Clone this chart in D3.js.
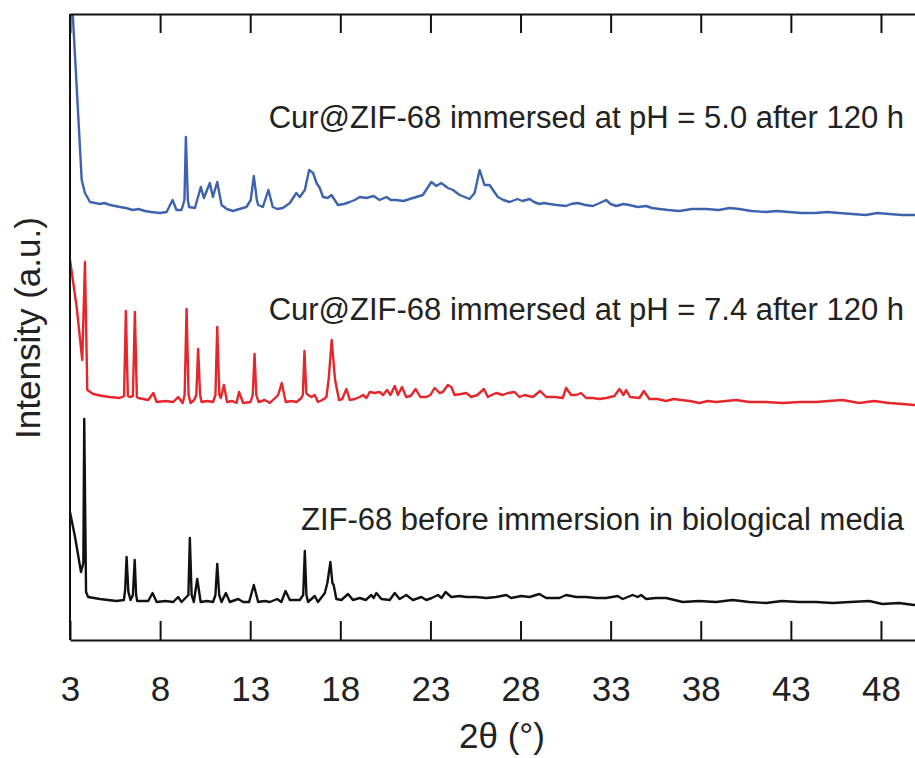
<!DOCTYPE html>
<meta charset="utf-8">

<!-- Load d3.js -->
<script src="https://d3js.org/d3.v7.min.js"></script>

<style>
  body { margin: 0; background: #fff; }
  text { font-family: "Liberation Sans", Arial, sans-serif; fill: #222; }
</style>

<div id="my_dataviz"></div>

<script>

  // x tick values (2theta, degrees)
  var xTicks = [3, 8, 13, 18, 23, 28, 33, 38, 43, 48];

  // series labels
  var labels = [
    "Cur@ZIF-68 immersed at pH = 5.0 after 120 h",
    "Cur@ZIF-68 immersed at pH = 7.4 after 120 h",
    "ZIF-68 before immersion in biological media"
  ];

  // pH 5.0 pattern (2theta, intensity a.u. incl. stacking offset)
  var ph50 = [
    [3.02,670],[3.65,460],[3.83,447],[4.11,438],[4.4,437],[4.66,436],[4.9,437],[5.22,435],[5.5,434],[5.77,433],
    [6.1,432],[6.49,430],[6.8,431],[7.16,429],[7.5,428],[7.99,427],[8.36,428],[8.69,440],[8.91,430],[9.19,430],
    [9.35,440],[9.43,503],[9.54,440],[9.61,433],[9.93,432],[10.26,453],[10.43,442],[10.76,457],[10.93,443],[11.17,458],
    [11.41,435],[11.7,431],[12.04,429],[12.4,431],[12.79,433],[13.03,440],[13.2,464],[13.37,440],[13.44,435],[13.7,433],
    [14.01,450],[14.25,433],[14.5,431],[14.81,432],[15.2,437],[15.56,447],[15.75,443],[16.03,450],[16.27,470],[16.49,467],
    [16.68,457],[16.86,452],[17.04,443],[17.3,442],[17.51,445],[17.87,435],[18.2,436],[18.52,438],[18.8,440],[19.08,443],
    [19.45,442],[19.85,444],[20.18,440],[20.56,443],[20.8,440],[21.11,440],[21.5,439],[22.03,442],[22.58,445],[23.05,458],
    [23.33,454],[23.6,457],[23.97,452],[24.25,450],[24.62,445],[24.9,443],[25.17,441],[25.45,447],[25.73,470],[26.0,455],
    [26.28,455],[26.74,443],[27.05,440],[27.39,438],[27.83,441],[28.1,439],[28.5,441],[28.75,438],[29.05,436],[29.3,437],
    [29.61,436],[30.0,435],[30.53,434],[30.8,436],[31.18,437],[31.6,435],[32.01,434],[32.4,437],[32.75,440],[33.0,436],
    [33.31,434],[33.7,436],[34.04,435],[34.5,433],[34.97,434],[35.3,432],[35.71,431],[36.2,430],[36.82,429],[37.5,431],
    [38.29,431],[39.0,430],[39.6,432],[40.14,431],[40.8,429],[41.62,428],[42.2,429],[42.91,428],[43.6,427],[44.39,427],
    [45.0,428],[45.68,427],[46.4,426],[47.16,425],[47.8,427],[48.45,426],[49.2,425],[49.84,425],[50,425]
  ];

  // pH 7.4 pattern
  var ph74 = [
    [3.0,380],[3.37,333],[3.68,280],[3.83,378],[3.96,250],[4.29,246],[4.8,244],[5.22,243],[5.77,242],[6.0,244],
    [6.1,329],[6.21,244],[6.33,243],[6.49,244],[6.6,328],[6.71,243],[6.79,242],[7.34,240],[7.62,247],[7.81,238],
    [8.3,239],[8.73,238],[9.0,243],[9.25,237],[9.36,245],[9.47,331],[9.58,245],[9.69,237],[9.89,240],[10.01,245],
    [10.11,291],[10.22,245],[10.3,238],[10.6,239],[10.94,238],[11.07,245],[11.17,313],[11.29,245],[11.37,242],[11.54,255],
    [11.72,238],[12.0,239],[12.24,237],[12.38,248],[12.61,237],[13.02,238],[13.14,245],[13.24,286],[13.34,245],[13.46,238],
    [13.81,240],[14.09,237],[14.55,245],[14.75,257],[14.97,238],[15.3,239],[15.57,238],[15.84,242],[15.92,245],[16.01,289],
    [16.11,247],[16.21,245],[16.4,243],[16.58,245],[16.76,238],[17.0,240],[17.23,243],[17.36,262],[17.52,300],[17.71,260],
    [17.93,240],[18.1,241],[18.34,251],[18.52,240],[18.8,241],[19.08,243],[19.26,245],[19.45,242],[19.63,248],[19.91,247],
    [20.18,248],[20.37,245],[20.59,250],[20.78,245],[21.02,254],[21.2,245],[21.42,253],[21.66,243],[21.9,244],[22.18,251],
    [22.44,243],[22.77,243],[23.0,245],[23.23,252],[23.51,247],[23.69,248],[23.97,255],[24.16,253],[24.34,245],[24.7,246],
    [24.99,247],[25.27,243],[25.6,245],[25.97,251],[26.19,243],[26.4,245],[26.65,247],[27.02,245],[27.3,247],[27.67,248],
    [27.94,243],[28.22,245],[28.45,244],[28.68,243],[29.09,249],[29.42,243],[29.9,243],[30.34,242],[30.53,252],[30.81,245],
    [31.09,245],[31.36,247],[31.64,242],[32.0,242],[32.38,241],[32.75,242],[33.21,244],[33.49,251],[33.71,245],[33.86,250],
    [34.08,243],[34.6,242],[34.84,249],[35.15,241],[35.6,241],[36.08,239],[36.5,241],[36.91,240],[37.4,239],[37.92,237],
    [38.4,239],[38.85,238],[39.4,239],[39.96,240],[40.7,238],[41.6,238],[42.54,237],[43.5,238],[44.39,238],[45.1,239],
    [45.87,240],[46.79,237],[47.62,239],[48.45,237],[49.2,236],[49.84,235],[50,235]
  ];

  // as-synthesised ZIF-68 pattern
  var zif68 = [
    [3.0,128],[3.28,103],[3.61,68],[3.74,77],[3.79,221],[3.89,48],[4.01,43],[4.66,41],[5.1,40],[5.59,39],
    [5.99,40],[6.06,50],[6.14,83],[6.24,48],[6.36,40],[6.49,45],[6.59,80],[6.67,45],[6.73,39],[7.34,39],
    [7.58,47],[7.81,38],[8.3,39],[8.73,38],[9.0,43],[9.19,38],[9.57,45],[9.65,102],[9.75,45],[9.87,38],
    [10.06,61],[10.25,38],[10.6,39],[10.94,38],[11.07,45],[11.17,76],[11.28,45],[11.41,38],[11.65,47],[11.87,38],
    [12.33,41],[12.61,38],[12.94,38],[13.2,55],[13.44,38],[13.8,39],[14.09,38],[14.5,41],[14.73,38],[14.96,49],
    [15.2,40],[15.75,40],[15.94,45],[16.03,89],[16.12,45],[16.21,38],[16.58,44],[16.76,38],[17.14,47],[17.28,57],
    [17.45,78],[17.56,57],[17.63,55],[17.78,41],[18.06,40],[18.43,46],[18.7,40],[19.08,42],[19.41,40],[19.72,45],
    [19.85,42],[20.0,47],[20.28,41],[20.74,40],[21.02,47],[21.29,41],[21.66,45],[22.03,40],[22.5,43],[22.77,40],
    [23.07,42],[23.42,45],[23.62,42],[23.84,48],[24.16,43],[24.62,44],[24.99,43],[25.54,43],[26.1,42],[26.65,43],
    [27.21,45],[27.48,42],[28.04,44],[28.5,43],[29.05,46],[29.42,42],[30.16,42],[30.53,45],[31.09,43],[31.64,43],
    [32.2,42],[32.75,42],[33.39,44],[33.67,41],[34.22,45],[34.5,43],[34.69,45],[34.97,41],[35.5,42],[36.08,42],
    [37.0,38],[37.9,39],[38.85,38],[39.77,40],[40.7,38],[41.62,37],[42.5,39],[43.47,38],[44.4,38],[45.31,37],
    [46.3,38],[47.35,39],[48.08,36],[49.0,37],[49.84,35],[50,35]
  ];

  var series = [
    {data: ph50, color: "#3d63ae", label: labels[0], labelY: 512},
    {data: ph74, color: "#e5262b", label: labels[1], labelY: 320},
    {data: zif68, color: "#111111", label: labels[2], labelY: 110}
  ];

  // set the dimensions and margins of the graph
  var margin = {top: 14, right: 0, bottom: 118, left: 70},
      width = 847,
      height = 626;

  var svg = d3.select("#my_dataviz")
    .append("svg")
      .attr("width", 915)
      .attr("height", 758)
    .append("g")
      .attr("transform", "translate(" + margin.left + "," + margin.top + ")");

  var x = d3.scaleLinear()
    .domain([3, 50])
    .range([0, width]);

  var y = d3.scaleLinear()
    .domain([0, 626])
    .range([height, 0]);

  svg.append("clipPath")
      .attr("id", "plotclip")
    .append("rect")
      .attr("width", width)
      .attr("height", height);

  // patterns
  var line = d3.line()
    .x(function(d) { return x(d[0]); })
    .y(function(d) { return y(d[1]); });

  svg.selectAll(".trace")
    .data(series)
    .enter()
    .append("path")
      .attr("class", "trace")
      .attr("clip-path", "url(#plotclip)")
      .attr("fill", "none")
      .attr("stroke", function(d) { return d.color; })
      .attr("stroke-width", 2.4)
      .attr("stroke-linejoin", "round")
      .attr("d", function(d) { return line(d.data); });

  // labels
  svg.selectAll(".lbl")
    .data(series)
    .enter()
    .append("text")
      .attr("class", "lbl")
      .attr("x", 834)
      .attr("y", function(d) { return y(d.labelY); })
      .attr("text-anchor", "end")
      .style("font-size", "31px")
      .text(function(d) { return d.label; });

  // X axis, bottom and top, ticks pointing in
  var xBottom = svg.append("g")
    .attr("transform", "translate(0," + height + ")")
    .call(d3.axisBottom(x).tickValues(xTicks).tickSizeInner(-19).tickSizeOuter(0).tickPadding(36));
  xBottom.selectAll("text").style("font-size", "35px").attr("fill", "#222");

  var xTop = svg.append("g")
    .call(d3.axisTop(x).tickValues(xTicks).tickSizeInner(-19).tickSizeOuter(0).tickFormat(""));

  svg.selectAll(".domain, .tick line")
    .attr("stroke", "#111")
    .attr("stroke-width", 2);

  // Y axis line only
  svg.append("line")
    .attr("x1", 0).attr("x2", 0)
    .attr("y1", 0).attr("y2", height)
    .attr("stroke", "#111")
    .attr("stroke-width", 2);

  // axis titles
  svg.append("text")
    .attr("x", 432)
    .attr("y", height + 108)
    .attr("text-anchor", "middle")
    .style("font-size", "35px")
    .text("2θ (°)");

  svg.append("text")
    .attr("transform", "translate(-30," + (height / 2 + 1) + ")rotate(-90)")
    .attr("text-anchor", "middle")
    .style("font-size", "35px")
    .text("Intensity (a.u.)");

</script>
